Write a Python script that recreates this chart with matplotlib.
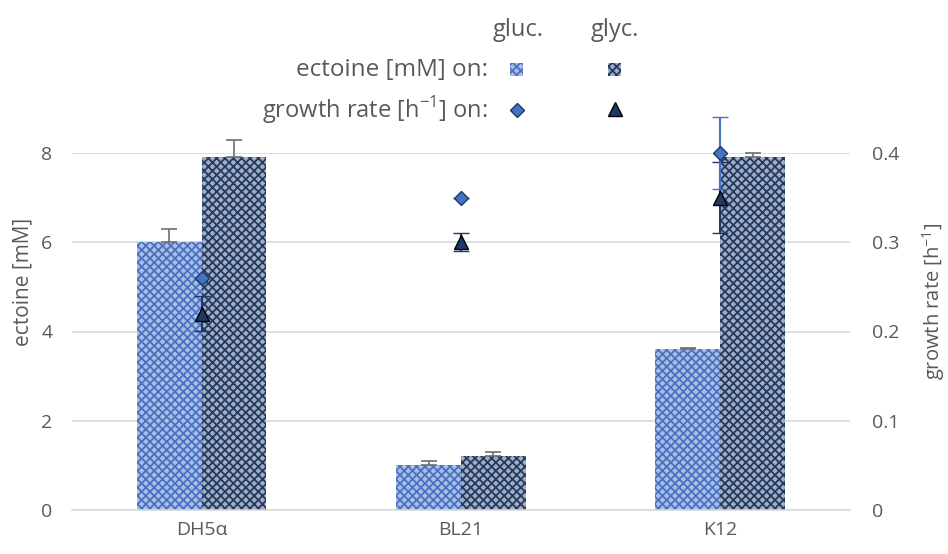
import matplotlib.pyplot as plt
import numpy as np

plt.rcParams['font.family'] = ['Open Sans', 'DejaVu Sans']
plt.rcParams['hatch.linewidth'] = 1.3

strains = ["DH5\u03b1", "BL21", "K12"]
ectoine_gluc = [6.0, 1.0, 3.6]
ectoine_gluc_err = [0.3, 0.1, 0.02]
ectoine_glyc = [7.9, 1.2, 7.9]
ectoine_glyc_err = [0.4, 0.1, 0.1]
growth_gluc = [0.26, 0.35, 0.40]
growth_gluc_err = [0.0, 0.0, 0.04]
growth_glyc = [0.22, 0.30, 0.35]
growth_glyc_err = [0.02, 0.01, 0.04]

TXT = "#595959"
GRID = "#d9d9d9"
GLUC_FACE, GLUC_HATCH = "#a9bfe8", "#4a72c0"
GLYC_FACE, GLYC_HATCH = "#a3adc2", "#233a62"
DIA_FACE, DIA_EDGE = "#4472c4", "#1f3864"
TRI_FACE, TRI_EDGE = "#203864", "#000000"

fig = plt.figure(figsize=(9.48, 5.54), dpi=100)
ax = fig.add_axes([72 / 948, 1 - 510 / 554, (850 - 72) / 948, (510 - 153) / 554])
ax2 = ax.twinx()

x = np.arange(len(strains))
w = 0.25

ax.bar(x - w / 2, ectoine_gluc, w, color=GLUC_FACE, edgecolor=GLUC_HATCH,
       hatch="xxxx", linewidth=0, zorder=2)
ax.bar(x + w / 2, ectoine_glyc, w, color=GLYC_FACE, edgecolor=GLYC_HATCH,
       hatch="xxxx", linewidth=0, zorder=2)
ax.errorbar(x - w / 2, ectoine_gluc, yerr=[np.zeros(3), ectoine_gluc_err],
            fmt="none", ecolor="#6f6f6f", elinewidth=1.2, capsize=6, capthick=1.2,
            zorder=3, clip_on=False)
ax.errorbar(x + w / 2, ectoine_glyc, yerr=[np.zeros(3), ectoine_glyc_err],
            fmt="none", ecolor="#6f6f6f", elinewidth=1.2, capsize=6, capthick=1.2,
            zorder=3, clip_on=False)

ax2.errorbar(x, growth_glyc, yerr=growth_glyc_err, fmt="^", ms=10,
             mfc=TRI_FACE, mec=TRI_EDGE, mew=1, ecolor=TRI_FACE, elinewidth=1.5,
             capsize=6, capthick=1.5, zorder=4, clip_on=False)
ax2.errorbar(x, growth_gluc, yerr=growth_gluc_err, fmt="D", ms=7.5,
             mfc=DIA_FACE, mec=DIA_EDGE, mew=1, ecolor=DIA_FACE, elinewidth=1.5,
             capsize=6, capthick=1.5, zorder=5, clip_on=False)

ax.set_xlim(-0.5, 2.5)
ax.set_ylim(0, 8)
ax2.set_ylim(0, 0.4)
ax.set_yticks([0, 2, 4, 6, 8])
ax.set_yticklabels(["0", "2", "4", "6", "8"])
ax2.set_yticks([0, 0.1, 0.2, 0.3, 0.4])
ax2.set_yticklabels(["0", "0.1", "0.2", "0.3", "0.4"])
ax.set_xticks(x)
ax.set_xticklabels(strains)

ax.grid(axis="y", color=GRID, linewidth=1.2, zorder=0)
ax.set_axisbelow(True)
for a in (ax, ax2):
    for s in a.spines.values():
        s.set_visible(False)
ax.spines["bottom"].set_visible(True)
ax.spines["bottom"].set_color(GRID)
ax.spines["bottom"].set_linewidth(1.2)

ax.tick_params(axis="both", length=0, colors=TXT, labelsize=14)
ax.tick_params(axis="y", pad=14)
ax.tick_params(axis="x", pad=8)
ax2.tick_params(axis="y", length=0, colors=TXT, labelsize=14, pad=16)

# axis titles
fig.text(23 / 948, 1 - 282 / 554, "ectoine [mM]", rotation=90, ha="center",
         va="center", color=TXT, fontsize=15)
fig.text(934 / 948, 1 - 301 / 554, "growth rate [h$^{\\mathregular{-1}}$]",
         rotation=90, ha="center", va="center", color=TXT, fontsize=14.5)

# legend block at the top
fig.text(518 / 948, 1 - 30 / 554, "gluc.", ha="center", va="center",
         color=TXT, fontsize=17)
fig.text(615 / 948, 1 - 30 / 554, "glyc.", ha="center", va="center",
         color=TXT, fontsize=17)
fig.text(488 / 948, 1 - 70 / 554, "ectoine [mM] on:", ha="right", va="center",
         color=TXT, fontsize=17.5)
fig.text(488 / 948, 1 - 110 / 554, "growth rate [h$^{\\mathregular{-1}}$] on:",
         ha="right", va="center", color=TXT, fontsize=17)

lax = fig.add_axes([0, 0, 1, 1], facecolor="none")
lax.set_xlim(0, 948)
lax.set_ylim(554, 0)
lax.axis("off")
lax.bar([517], [13], 13, bottom=[63], color=GLUC_FACE, edgecolor=GLUC_HATCH,
        hatch="xxxx", linewidth=0)
lax.bar([615], [13], 13, bottom=[63], color=GLYC_FACE, edgecolor=GLYC_HATCH,
        hatch="xxxx", linewidth=0)
lax.plot([517], [110], "D", ms=7.5, mfc=DIA_FACE, mec=DIA_EDGE, mew=1)
lax.plot([615], [109], "^", ms=10, mfc=TRI_FACE, mec=TRI_EDGE, mew=1)

fig.savefig("out.png", dpi=100, facecolor="white")
